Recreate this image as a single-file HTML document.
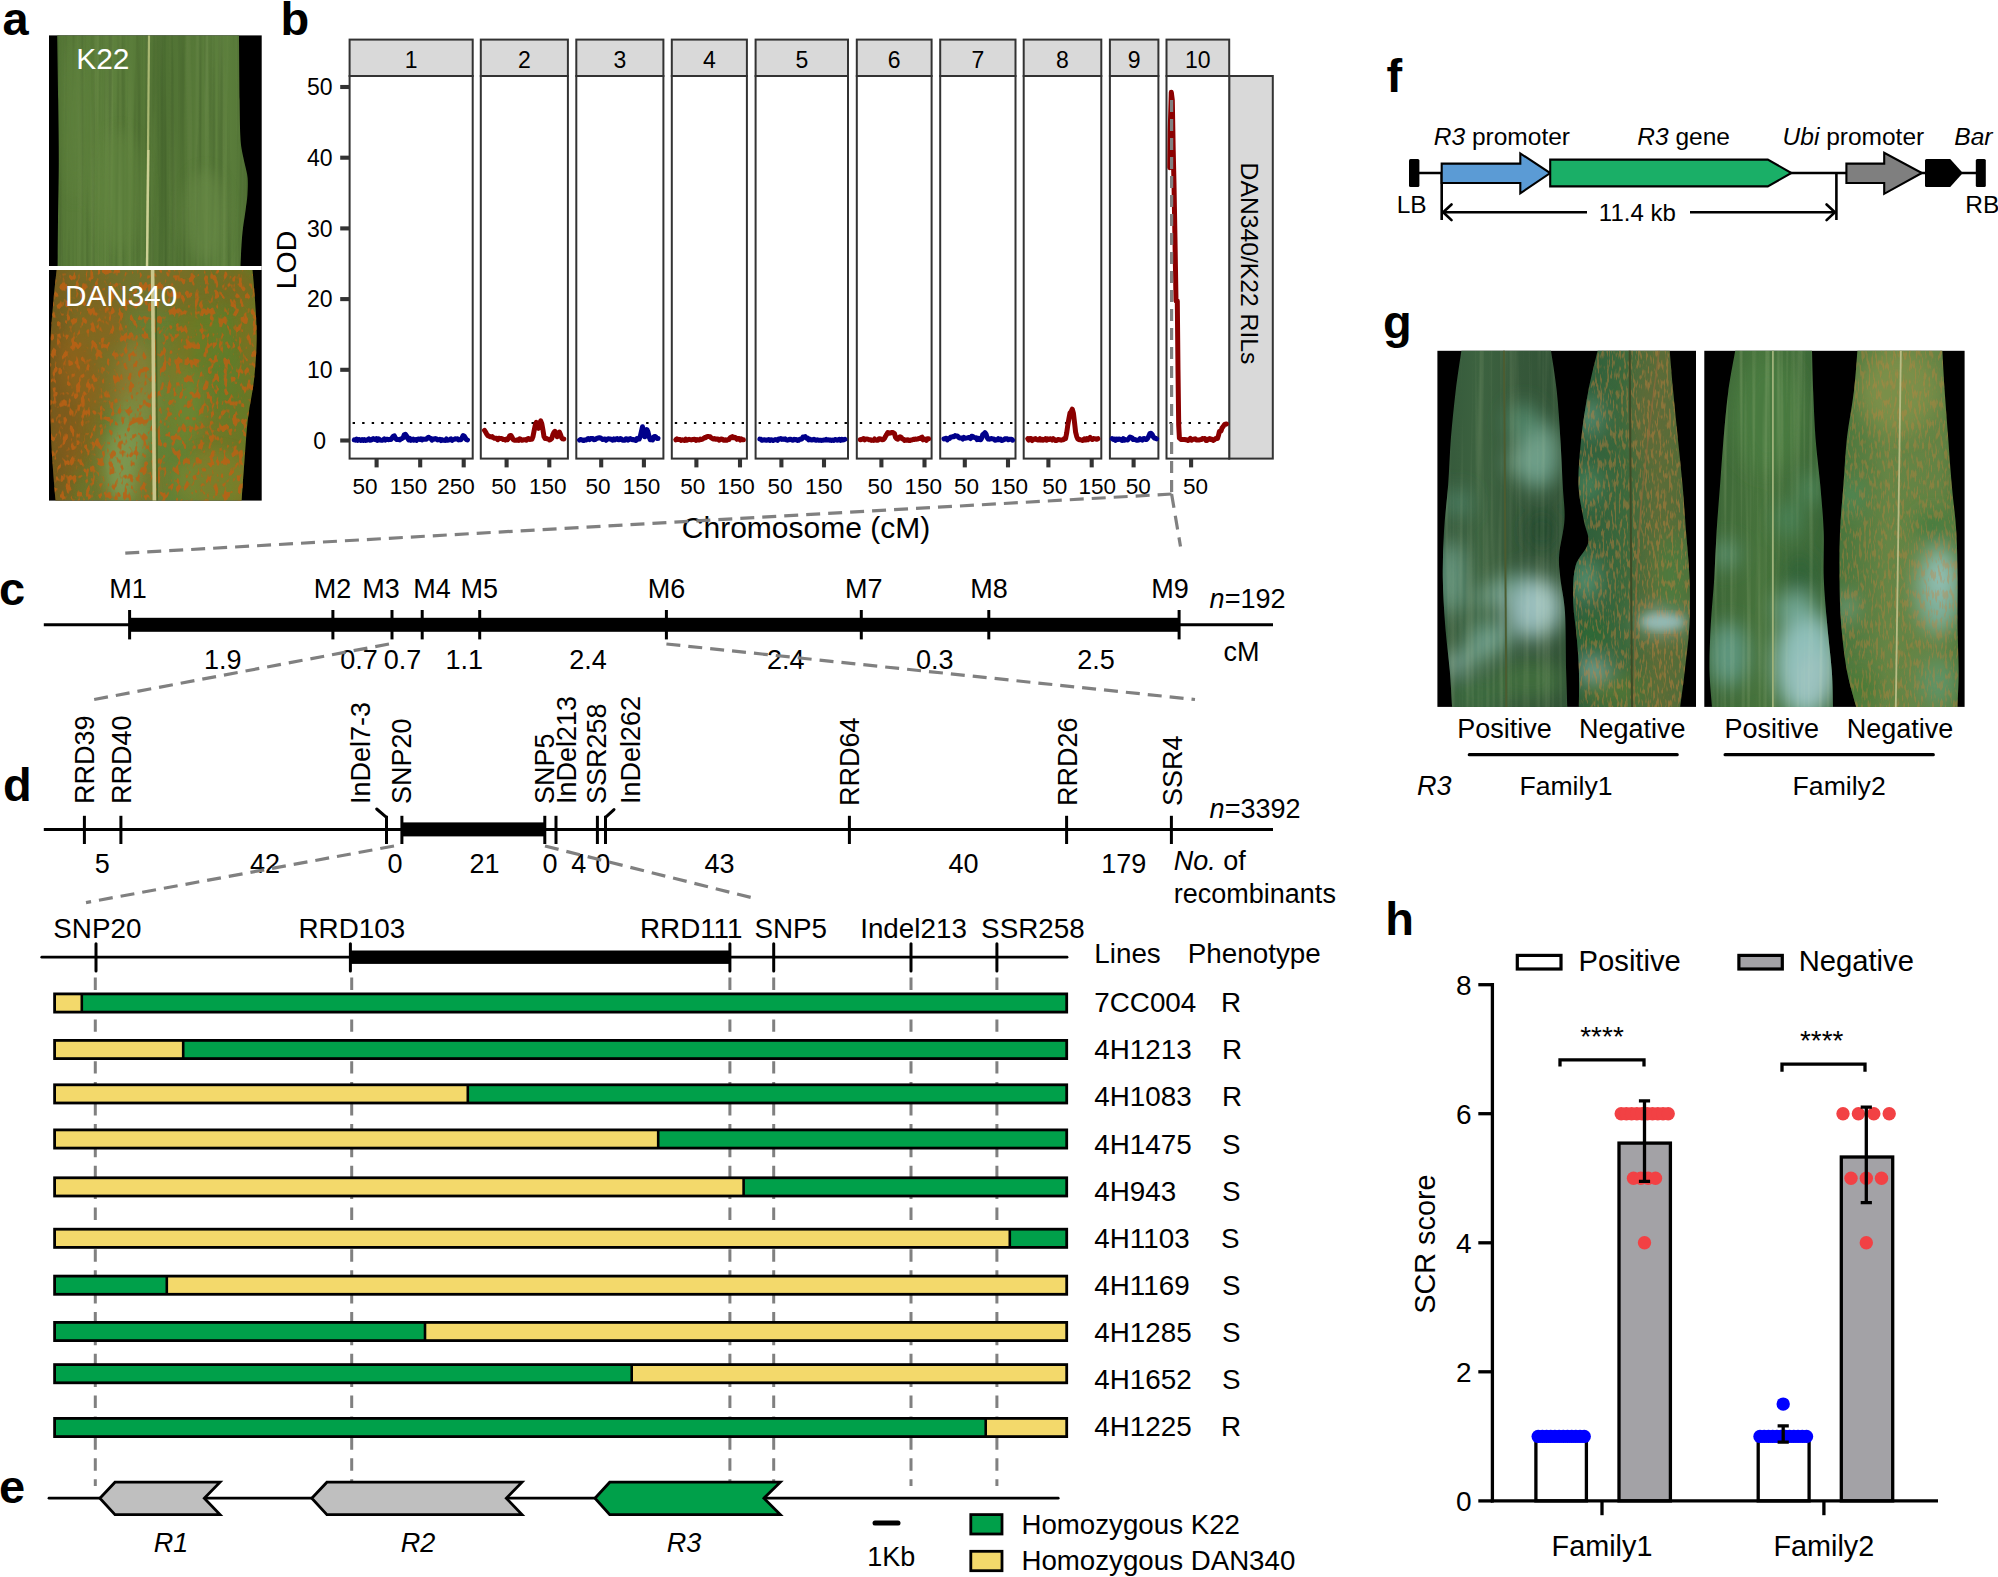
<!DOCTYPE html>
<html lang="en"><head><meta charset="utf-8"><title>Figure</title>
<style>
html,body{margin:0;padding:0;background:#fff;overflow:hidden}
svg{display:block}
text{font-family:"Liberation Sans",Arial,Helvetica,sans-serif;fill:#000}
.b{font-weight:bold}
.i{font-style:italic}
</style></head><body>
<svg width="1998" height="1577" viewBox="0 0 1998 1577">
<rect width="1998" height="1577" fill="#fff"/>
<defs>
<filter id="rustA" x="0" y="0" width="100%" height="100%" color-interpolation-filters="sRGB">
 <feTurbulence type="fractalNoise" baseFrequency="0.21 0.12" numOctaves="2" seed="11" result="n"/>
 <feColorMatrix in="n" type="matrix" values="0 0 0 0 0.74  0 0 0 0 0.38  0 0 0 0 0.08  8 0 0 0 -4.25"/>
 <feGaussianBlur stdDeviation="0.7"/>
 <feComposite in2="SourceGraphic" operator="in"/>
</filter>
<filter id="rustA2" x="0" y="0" width="100%" height="100%" color-interpolation-filters="sRGB">
 <feTurbulence type="fractalNoise" baseFrequency="0.03 0.012" numOctaves="2" seed="5" result="n"/>
 <feColorMatrix in="n" type="matrix" values="0 0 0 0 0.66  0 0 0 0 0.38  0 0 0 0 0.08  3 0 0 0 -1.2"/>
 <feComposite in2="SourceGraphic" operator="in"/>
</filter>
<filter id="rustG" x="0" y="0" width="100%" height="100%" color-interpolation-filters="sRGB">
 <feTurbulence type="fractalNoise" baseFrequency="0.42 0.10" numOctaves="2" seed="23" result="n"/>
 <feColorMatrix in="n" type="matrix" values="0 0 0 0 0.80  0 0 0 0 0.50  0 0 0 0 0.24  6 0 0 0 -3.0"/>
 <feGaussianBlur stdDeviation="0.5"/>
 <feComposite in2="SourceGraphic" operator="in"/>
</filter>
<filter id="streak" x="0" y="0" width="100%" height="100%" color-interpolation-filters="sRGB">
 <feTurbulence type="fractalNoise" baseFrequency="0.22 0.004" numOctaves="2" seed="2" result="n"/>
 <feColorMatrix in="n" type="matrix" values="0 0 0 0 1  0 0 0 0 1  0 0 0 0 0.8  3 0 0 0 -1.35"/>
 <feComposite in2="SourceGraphic" operator="in"/>
</filter>
<filter id="streakD" x="0" y="0" width="100%" height="100%" color-interpolation-filters="sRGB">
 <feTurbulence type="fractalNoise" baseFrequency="0.22 0.004" numOctaves="2" seed="9" result="n"/>
 <feColorMatrix in="n" type="matrix" values="0 0 0 0 0  0 0 0 0 0.08  0 0 0 0 0  3 0 0 0 -1.35"/>
 <feComposite in2="SourceGraphic" operator="in"/>
</filter>
<filter id="blur7" x="-30%" y="-30%" width="160%" height="160%"><feGaussianBlur stdDeviation="7"/></filter>
<filter id="blur10" x="-30%" y="-30%" width="160%" height="160%"><feGaussianBlur stdDeviation="10"/></filter>
<filter id="blur4" x="-30%" y="-30%" width="160%" height="160%"><feGaussianBlur stdDeviation="4"/></filter>
<filter id="blur1" x="-5%" y="-5%" width="110%" height="110%"><feGaussianBlur stdDeviation="0.7"/></filter>
<linearGradient id="gK22" x1="0" x2="1" y1="0" y2="0">
 <stop offset="0" stop-color="#4a6b30"/><stop offset="0.08" stop-color="#587a38"/><stop offset="0.30" stop-color="#5d803c"/>
 <stop offset="0.47" stop-color="#567837"/><stop offset="0.53" stop-color="#4f7133"/><stop offset="0.66" stop-color="#557737"/><stop offset="0.80" stop-color="#5e813e"/>
 <stop offset="0.93" stop-color="#547636"/><stop offset="1" stop-color="#46672e"/>
</linearGradient>
<linearGradient id="gDAN" x1="0" x2="1" y1="0" y2="0">
 <stop offset="0" stop-color="#705c1e"/><stop offset="0.12" stop-color="#6e7028"/><stop offset="0.35" stop-color="#667e34"/><stop offset="0.5" stop-color="#648238"/>
 <stop offset="0.8" stop-color="#5f7e2c"/><stop offset="1" stop-color="#6a7624"/>
</linearGradient>
</defs>
<g id="panel-a">
<text x="2.6" y="35" font-size="47" class="b">a</text>
<rect x="49" y="35.4" width="212.7" height="465.2" fill="#000"/>
<clipPath id="cK22"><path d="M57.2 35.4 C57.4 46.2 57.9 79.2 58.2 100 C58.5 120.8 58.8 140 58.8 160 C58.8 180 58.2 202.3 58 220 C57.8 237.7 57.7 258.3 57.6 266 L240.5 266 C240.7 262.5 241.1 251.3 241.5 245 C241.9 238.7 242.3 233.8 243 228 C243.7 222.2 244.9 215.5 245.6 210 C246.3 204.5 247.1 200.3 247.4 195 C247.7 189.7 248 183 247.6 178 C247.2 173 246 169.7 245 165 C244 160.3 242.6 155 241.8 150 C241 145 240.7 143.3 240.3 135 C239.9 126.7 239.8 116.6 239.6 100 C239.4 83.4 239.1 46.2 239 35.4 Z"/></clipPath>
<g clip-path="url(#cK22)">
<rect x="49" y="35" width="213" height="232" fill="url(#gK22)"/>
<rect x="49" y="35" width="213" height="232" fill="#fff" filter="url(#streak)" opacity="0.05"/>
<rect x="49" y="35" width="213" height="232" fill="#fff" filter="url(#streakD)" opacity="0.12"/>
<g filter="url(#blur7)" opacity="0.5"><ellipse cx="205" cy="215" rx="22" ry="45" fill="#6c8c48"/><ellipse cx="120" cy="190" rx="25" ry="60" fill="#648640"/><ellipse cx="75" cy="120" rx="10" ry="80" fill="#62843f"/></g>
<path d="M149 35 L147 267" stroke="#a9b872" stroke-width="2.2" fill="none"/>
<path d="M148.4 150 L147 267" stroke="#d2d49a" stroke-width="2.4" fill="none" opacity="0.85"/>
</g>
<clipPath id="cDAN"><path d="M56.6 269.8 C56.1 274.8 54.5 288.5 53.5 300 C52.5 311.5 51.1 324 50.6 339 C50.1 354 50.3 374.2 50.4 390 C50.5 405.8 50.6 420.7 51 434 C51.4 447.3 52.2 458.9 53 470 C53.8 481.1 55.1 495.5 55.5 500.6 L241.6 500.6 C242.1 493.8 243.4 473.8 244.5 460 C245.6 446.2 246.4 431.3 248 418 C249.6 404.7 252.6 393.2 254 380 C255.4 366.8 256.5 352.3 256.7 339 C256.9 325.7 255.7 311.5 255 300 C254.3 288.5 252.9 274.8 252.5 269.8 Z"/></clipPath>
<g clip-path="url(#cDAN)">
<rect x="49" y="269" width="213" height="232" fill="url(#gDAN)"/>
<g filter="url(#blur7)" opacity="0.7"><ellipse cx="135" cy="400" rx="20" ry="60" fill="#7f9650"/><ellipse cx="122" cy="465" rx="18" ry="40" fill="#86a05a"/><ellipse cx="185" cy="400" rx="20" ry="50" fill="#6f8630"/><ellipse cx="200" cy="330" rx="30" ry="40" fill="#687c26"/><ellipse cx="75" cy="400" rx="22" ry="70" fill="#85601c"/><ellipse cx="95" cy="320" rx="30" ry="30" fill="#7a6a20"/></g>
<rect x="49" y="269" width="213" height="232" fill="#fff" filter="url(#rustA2)" opacity="0.22"/>
<g filter="url(#blur7)" opacity="0.34"><ellipse cx="150" cy="285" rx="110" ry="30" fill="#8a5a1c"/><ellipse cx="62" cy="400" rx="16" ry="100" fill="#7a501a"/><ellipse cx="100" cy="360" rx="40" ry="50" fill="#96621e"/><ellipse cx="215" cy="480" rx="40" ry="30" fill="#9a8a30"/></g>
<rect x="49" y="269" width="213" height="232" fill="#fff" filter="url(#rustA)" opacity="0.85"/>
<path d="M152.6 269 L154.4 501" stroke="#c9c58a" stroke-width="3.6" fill="none"/>
<path d="M156.2 300 L157.4 501" stroke="#4a6426" stroke-width="1.4" fill="none"/>
</g>
<rect x="49" y="266" width="212.7" height="4" fill="#fff"/>
<text x="76.2" y="68.8" font-size="30" textLength="53.2" lengthAdjust="spacingAndGlyphs" style="fill:#fff" >K22</text>
<text x="65" y="305.5" font-size="30" textLength="112.2" lengthAdjust="spacingAndGlyphs" style="fill:#fff" >DAN340</text>
</g>
<g id="panel-b">
<text x="280.6" y="35" font-size="47" class="b">b</text>
<rect x="1229.2" y="76" width="43.6" height="382.6" fill="#D9D9D9" stroke="#333" stroke-width="2"/>
<text transform="translate(1240.5 162.6) rotate(90)" font-size="24" textLength="201.8" lengthAdjust="spacingAndGlyphs" >DAN340/K22 RILs</text>
<rect x="349.6" y="39.6" width="123.1" height="36.4" fill="#D9D9D9" stroke="#333" stroke-width="2"/>
<rect x="349.6" y="76" width="123.1" height="382.6" fill="#fff" stroke="#333" stroke-width="2"/>
<text x="411.1" y="67.9" font-size="23" text-anchor="middle" >1</text>
<line x1="352.6" y1="423" x2="471.7" y2="423" stroke="#000" stroke-width="2" stroke-dasharray="2.4 7.15"/>
<line x1="376.6" y1="458.6" x2="376.6" y2="467.4" stroke="#333" stroke-width="4.1" />
<text x="364.9" y="493.5" font-size="22.5" text-anchor="middle" >50</text>
<line x1="420.2" y1="458.6" x2="420.2" y2="467.4" stroke="#333" stroke-width="4.1" />
<text x="408.4" y="493.5" font-size="22.5" text-anchor="middle" >150</text>
<line x1="463.7" y1="458.6" x2="463.7" y2="467.4" stroke="#333" stroke-width="4.1" />
<text x="455.9" y="493.5" font-size="22.5" text-anchor="middle" >250</text>
<rect x="480.8" y="39.6" width="87.1" height="36.4" fill="#D9D9D9" stroke="#333" stroke-width="2"/>
<rect x="480.8" y="76" width="87.1" height="382.6" fill="#fff" stroke="#333" stroke-width="2"/>
<text x="524.4" y="67.9" font-size="23" text-anchor="middle" >2</text>
<line x1="483.8" y1="423" x2="566.9" y2="423" stroke="#000" stroke-width="2" stroke-dasharray="2.4 7.15"/>
<line x1="506.6" y1="458.6" x2="506.6" y2="467.4" stroke="#333" stroke-width="4.1" />
<text x="503.8" y="493.5" font-size="22.5" text-anchor="middle" >50</text>
<line x1="549.3" y1="458.6" x2="549.3" y2="467.4" stroke="#333" stroke-width="4.1" />
<text x="547.8" y="493.5" font-size="22.5" text-anchor="middle" >150</text>
<rect x="576.3" y="39.6" width="87.1" height="36.4" fill="#D9D9D9" stroke="#333" stroke-width="2"/>
<rect x="576.3" y="76" width="87.1" height="382.6" fill="#fff" stroke="#333" stroke-width="2"/>
<text x="619.8" y="67.9" font-size="23" text-anchor="middle" >3</text>
<line x1="579.3" y1="423" x2="662.4" y2="423" stroke="#000" stroke-width="2" stroke-dasharray="2.4 7.15"/>
<line x1="601.2" y1="458.6" x2="601.2" y2="467.4" stroke="#333" stroke-width="4.1" />
<text x="598.1" y="493.5" font-size="22.5" text-anchor="middle" >50</text>
<line x1="643.9" y1="458.6" x2="643.9" y2="467.4" stroke="#333" stroke-width="4.1" />
<text x="641.5" y="493.5" font-size="22.5" text-anchor="middle" >150</text>
<rect x="671.8" y="39.6" width="75.1" height="36.4" fill="#D9D9D9" stroke="#333" stroke-width="2"/>
<rect x="671.8" y="76" width="75.1" height="382.6" fill="#fff" stroke="#333" stroke-width="2"/>
<text x="709.3" y="67.9" font-size="23" text-anchor="middle" >4</text>
<line x1="674.8" y1="423" x2="745.9" y2="423" stroke="#000" stroke-width="2" stroke-dasharray="2.4 7.15"/>
<line x1="696.4" y1="458.6" x2="696.4" y2="467.4" stroke="#333" stroke-width="4.1" />
<text x="692.7" y="493.5" font-size="22.5" text-anchor="middle" >50</text>
<line x1="740" y1="458.6" x2="740" y2="467.4" stroke="#333" stroke-width="4.1" />
<text x="736.1" y="493.5" font-size="22.5" text-anchor="middle" >150</text>
<rect x="755.6" y="39.6" width="92.4" height="36.4" fill="#D9D9D9" stroke="#333" stroke-width="2"/>
<rect x="755.6" y="76" width="92.4" height="382.6" fill="#fff" stroke="#333" stroke-width="2"/>
<text x="801.8" y="67.9" font-size="23" text-anchor="middle" >5</text>
<line x1="758.6" y1="423" x2="847" y2="423" stroke="#000" stroke-width="2" stroke-dasharray="2.4 7.15"/>
<line x1="781.4" y1="458.6" x2="781.4" y2="467.4" stroke="#333" stroke-width="4.1" />
<text x="780.1" y="493.5" font-size="22.5" text-anchor="middle" >50</text>
<line x1="824" y1="458.6" x2="824" y2="467.4" stroke="#333" stroke-width="4.1" />
<text x="823.8" y="493.5" font-size="22.5" text-anchor="middle" >150</text>
<rect x="856.8" y="39.6" width="74.8" height="36.4" fill="#D9D9D9" stroke="#333" stroke-width="2"/>
<rect x="856.8" y="76" width="74.8" height="382.6" fill="#fff" stroke="#333" stroke-width="2"/>
<text x="894.2" y="67.9" font-size="23" text-anchor="middle" >6</text>
<line x1="859.8" y1="423" x2="930.6" y2="423" stroke="#000" stroke-width="2" stroke-dasharray="2.4 7.15"/>
<line x1="881.4" y1="458.6" x2="881.4" y2="467.4" stroke="#333" stroke-width="4.1" />
<text x="880.1" y="493.5" font-size="22.5" text-anchor="middle" >50</text>
<line x1="924.5" y1="458.6" x2="924.5" y2="467.4" stroke="#333" stroke-width="4.1" />
<text x="923.2" y="493.5" font-size="22.5" text-anchor="middle" >150</text>
<rect x="940.2" y="39.6" width="75.3" height="36.4" fill="#D9D9D9" stroke="#333" stroke-width="2"/>
<rect x="940.2" y="76" width="75.3" height="382.6" fill="#fff" stroke="#333" stroke-width="2"/>
<text x="977.9" y="67.9" font-size="23" text-anchor="middle" >7</text>
<line x1="943.2" y1="423" x2="1014.5" y2="423" stroke="#000" stroke-width="2" stroke-dasharray="2.4 7.15"/>
<line x1="964.8" y1="458.6" x2="964.8" y2="467.4" stroke="#333" stroke-width="4.1" />
<text x="966.4" y="493.5" font-size="22.5" text-anchor="middle" >50</text>
<line x1="1008" y1="458.6" x2="1008" y2="467.4" stroke="#333" stroke-width="4.1" />
<text x="1009.2" y="493.5" font-size="22.5" text-anchor="middle" >150</text>
<rect x="1023.7" y="39.6" width="77.6" height="36.4" fill="#D9D9D9" stroke="#333" stroke-width="2"/>
<rect x="1023.7" y="76" width="77.6" height="382.6" fill="#fff" stroke="#333" stroke-width="2"/>
<text x="1062.5" y="67.9" font-size="23" text-anchor="middle" >8</text>
<line x1="1026.7" y1="423" x2="1100.3" y2="423" stroke="#000" stroke-width="2" stroke-dasharray="2.4 7.15"/>
<line x1="1048.4" y1="458.6" x2="1048.4" y2="467.4" stroke="#333" stroke-width="4.1" />
<text x="1054.7" y="493.5" font-size="22.5" text-anchor="middle" >50</text>
<line x1="1091.7" y1="458.6" x2="1091.7" y2="467.4" stroke="#333" stroke-width="4.1" />
<text x="1097.3" y="493.5" font-size="22.5" text-anchor="middle" >150</text>
<rect x="1109.9" y="39.6" width="48.5" height="36.4" fill="#D9D9D9" stroke="#333" stroke-width="2"/>
<rect x="1109.9" y="76" width="48.5" height="382.6" fill="#fff" stroke="#333" stroke-width="2"/>
<text x="1134.2" y="67.9" font-size="23" text-anchor="middle" >9</text>
<line x1="1112.9" y1="423" x2="1157.4" y2="423" stroke="#000" stroke-width="2" stroke-dasharray="2.4 7.15"/>
<line x1="1133.6" y1="458.6" x2="1133.6" y2="467.4" stroke="#333" stroke-width="4.1" />
<text x="1138.2" y="493.5" font-size="22.5" text-anchor="middle" >50</text>
<rect x="1166.5" y="39.6" width="62.7" height="36.4" fill="#D9D9D9" stroke="#333" stroke-width="2"/>
<rect x="1166.5" y="76" width="62.7" height="382.6" fill="#fff" stroke="#333" stroke-width="2"/>
<text x="1197.8" y="67.9" font-size="23" text-anchor="middle" >10</text>
<line x1="1169.5" y1="423" x2="1228.2" y2="423" stroke="#000" stroke-width="2" stroke-dasharray="2.4 7.15"/>
<line x1="1191.1" y1="458.6" x2="1191.1" y2="467.4" stroke="#333" stroke-width="4.1" />
<text x="1195.5" y="493.5" font-size="22.5" text-anchor="middle" >50</text>
<line x1="340.2" y1="440.5" x2="349.6" y2="440.5" stroke="#333" stroke-width="4.1" />
<text x="319.7" y="448.7" font-size="23" text-anchor="middle" >0</text>
<line x1="340.2" y1="369.8" x2="349.6" y2="369.8" stroke="#333" stroke-width="4.1" />
<text x="319.7" y="378" font-size="23" text-anchor="middle" >10</text>
<line x1="340.2" y1="299.1" x2="349.6" y2="299.1" stroke="#333" stroke-width="4.1" />
<text x="319.7" y="307.3" font-size="23" text-anchor="middle" >20</text>
<line x1="340.2" y1="228.4" x2="349.6" y2="228.4" stroke="#333" stroke-width="4.1" />
<text x="319.7" y="236.6" font-size="23" text-anchor="middle" >30</text>
<line x1="340.2" y1="157.7" x2="349.6" y2="157.7" stroke="#333" stroke-width="4.1" />
<text x="319.7" y="165.9" font-size="23" text-anchor="middle" >40</text>
<line x1="340.2" y1="87" x2="349.6" y2="87" stroke="#333" stroke-width="4.1" />
<text x="319.7" y="95.2" font-size="23" text-anchor="middle" >50</text>
<text transform="translate(295.5 260) rotate(-90)" font-size="27" text-anchor="middle" textLength="58.6" lengthAdjust="spacingAndGlyphs" >LOD</text>
<text x="806" y="537.7" font-size="29.5" text-anchor="middle" textLength="248.4" lengthAdjust="spacingAndGlyphs" >Chromosome (cM)</text>
<polyline points="354.3,439.9 355.4,440.2 356.5,439.2 357.6,440.4 358.7,439.4 359.8,439.8 361,440.4 362.1,439.5 363.2,440.4 364.3,439.6 365.4,440.4 366.5,440.3 367.6,439.7 368.7,438.9 369.8,440.3 370.9,440.1 372.1,439.3 373.2,438.6 374.3,439.4 375.4,439.7 376.5,438.6 377.6,440.4 378.7,438.8 379.8,439.9 380.9,440.2 382,440.3 383.2,439.9 384.3,438.9 385.4,440.1 386.5,439.3 387.6,439.2 388.7,439.7 389.8,439.3 390.9,439.6 392,438 393.1,436.3 394.3,435.9 395.4,438.2 396.5,439.5 397.6,439.3 398.7,439.6 399.8,439.9 400.9,438.9 402,438.6 403.1,437.8 404.2,434.8 405.4,434.3 406.5,435.7 407.6,438.1 408.7,439.8 409.8,438.5 410.9,440.3 412,439.7 413.1,439 414.2,440.2 415.3,439.5 416.4,440.4 417.6,439.2 418.7,439 419.8,439.4 420.9,438.8 422,439.9 423.1,439.1 424.2,439.3 425.3,439.2 426.4,439.2 427.5,437.9 428.7,437.2 429.8,438.3 430.9,438.4 432,440.1 433.1,439 434.2,439.2 435.3,438.5 436.4,438.9 437.5,439.9 438.6,439.7 439.8,439.2 440.9,440.5 442,439.6 443.1,440.2 444.2,440.3 445.3,440.4 446.4,439 447.5,440.2 448.6,440 449.7,439.7 450.9,438.8 452,440.3 453.1,439.6 454.2,439.4 455.3,438.8 456.4,438.9 457.5,438.8 458.6,439.9 459.7,439.7 460.8,439.7 462,438 463.1,435.6 464.2,436 465.3,437.9 466.4,439.6 467.5,440" fill="none" stroke="#00008B" stroke-width="5" stroke-linejoin="round" stroke-linecap="round"/>
<polyline points="484.5,430.3 485.6,432 486.7,434.1 487.8,435.7 488.9,435.9 490,436.7 491.1,436.9 492.2,436.6 493.3,437.6 494.4,438.2 495.5,438.3 496.6,438.3 497.7,439.7 498.8,438.2 499.9,438.5 501,438.4 502.1,438.6 503.2,439.5 504.3,439.5 505.4,440.1 506.5,439 507.6,439.7 508.7,438.1 509.8,435.6 510.9,435.4 512,437.1 513.1,439.5 514.2,440.3 515.3,440.2 516.4,440.3 517.5,439.8 518.6,440.4 519.7,438.8 520.8,439.3 521.9,440.2 523,440 524.1,439.8 525.3,439.8 526.4,440.3 527.5,438.8 528.6,438.5 529.7,439.5 530.8,439.3 531.9,439.2 533,436.5 534.1,430.8 535.2,425.4 536.3,422.4 537.4,426.3 538.5,428.3 539.6,423.6 540.7,420.9 541.8,423.6 542.9,429.6 544,436.6 545.1,438.5 546.2,438.4 547.3,438.8 548.4,439.1 549.5,439.9 550.6,439.4 551.7,438.6 552.8,434.9 553.9,432.5 555,431.3 556.1,434.3 557.2,436.7 558.3,434.6 559.4,432.1 560.5,434.5 561.6,437.8 562.7,438.8 563.8,439" fill="none" stroke="#8B0000" stroke-width="5" stroke-linejoin="round" stroke-linecap="round"/>
<polyline points="579.5,440.1 580.6,439.5 581.7,439.8 582.8,440.4 583.9,440.4 585,439.9 586.1,440 587.2,439.1 588.3,438.6 589.5,439.6 590.6,438.6 591.7,438.5 592.8,438.6 593.9,439.7 595,439.6 596.1,438.9 597.2,438.2 598.3,438 599.4,437.8 600.5,438 601.6,438.6 602.7,439.5 603.8,439.2 604.9,438.9 606,440.3 607.1,439.2 608.2,438.7 609.4,439 610.5,439 611.6,439.6 612.7,440.1 613.8,438.9 614.9,439.8 616,438.9 617.1,438.6 618.2,439.7 619.3,439.7 620.4,438.6 621.5,439.1 622.6,440.2 623.7,440.2 624.8,440.2 625.9,438.7 627,438.9 628.1,440.2 629.3,438.9 630.4,438.6 631.5,439.2 632.6,439.8 633.7,439.4 634.8,440.2 635.9,440.5 637,438.6 638.1,439.2 639.2,439.1 640.3,436.2 641.4,431.5 642.5,426.8 643.6,430.9 644.7,436.8 645.8,434.6 646.9,429.6 648,432.1 649.2,437 650.3,439.7 651.4,439.6 652.5,440 653.6,437.1 654.7,436.4 655.8,436.8 656.9,438.5 658,438.6" fill="none" stroke="#00008B" stroke-width="5" stroke-linejoin="round" stroke-linecap="round"/>
<polyline points="675.8,439.8 676.9,438.9 678,439.6 679.1,439.6 680.2,439.6 681.3,440.5 682.4,439.8 683.6,440.2 684.7,440.5 685.8,439.1 686.9,440.2 688,439.7 689.1,439.3 690.2,439.6 691.3,439.9 692.4,439.6 693.5,439.6 694.6,439.2 695.7,440.3 696.9,439.5 698,440.1 699.1,440 700.2,439.1 701.3,439.5 702.4,439.2 703.5,438.5 704.6,437.6 705.7,437.7 706.8,436.7 707.9,436.5 709,436.6 710.2,436.8 711.3,437.9 712.4,438.5 713.5,439.1 714.6,438.6 715.7,439.2 716.8,439 717.9,438.9 719,440.1 720.1,439.6 721.2,438.9 722.3,439.1 723.5,440.3 724.6,440.3 725.7,439.7 726.8,440.2 727.9,439.6 729,439.5 730.1,437.9 731.2,437.2 732.3,436.6 733.4,437.8 734.5,437.2 735.6,437.8 736.8,439.3 737.9,438.5 739,438.6 740.1,440 741.2,438.8 742.3,439.8 743.4,439.7" fill="none" stroke="#8B0000" stroke-width="5" stroke-linejoin="round" stroke-linecap="round"/>
<polyline points="759.8,439.1 760.9,439.3 762,440.3 763.1,439.9 764.2,439.8 765.3,440 766.4,440.2 767.5,440 768.7,439.5 769.8,440.5 770.9,439.7 772,439.9 773.1,440.5 774.2,440 775.3,439.6 776.4,439.8 777.5,440.4 778.6,439 779.7,439 780.8,438.5 781.9,439.4 783,439.1 784.1,439.5 785.2,438.8 786.4,439.8 787.5,440.2 788.6,439.9 789.7,439.2 790.8,439.3 791.9,440.1 793,440.3 794.1,439.2 795.2,439.7 796.3,439.5 797.4,440.4 798.5,440.3 799.6,439.3 800.7,439.3 801.8,439.1 803,437 804.1,436.9 805.2,436.6 806.3,438.2 807.4,438 808.5,439.8 809.6,439 810.7,439.8 811.8,440 812.9,439.7 814,439.2 815.1,440.1 816.2,440.3 817.3,439.8 818.4,440.2 819.6,440.3 820.7,440.3 821.8,440.4 822.9,440.2 824,440.1 825.1,440.1 826.2,439.4 827.3,440.1 828.4,439.8 829.5,440.2 830.6,440 831.7,440.5 832.8,440.1 833.9,440.5 835,439.5 836.1,439.7 837.3,440.2 838.4,439.8 839.5,439.2 840.6,440.3 841.7,439.3 842.8,439.9 843.9,439.8 845,439.3" fill="none" stroke="#00008B" stroke-width="5" stroke-linejoin="round" stroke-linecap="round"/>
<polyline points="860.3,439.7 861.4,439.5 862.5,439.1 863.6,438.6 864.7,439.8 865.8,438.9 866.9,439.1 868,439.2 869.1,439.7 870.2,439.8 871.3,440.4 872.4,440.2 873.5,440.4 874.6,439 875.7,440 876.8,440.2 877.9,440.3 879,438.8 880.1,438.8 881.2,439.2 882.3,439.8 883.4,439.6 884.5,438.4 885.6,436.2 886.7,434.4 887.8,432.5 888.9,433.3 890,433 891.1,432.8 892.2,432.4 893.3,432.9 894.5,433.7 895.6,437.6 896.7,438.7 897.8,439.2 898.9,437.5 900,436.7 901.1,437.2 902.2,438.9 903.3,439.1 904.4,440.4 905.5,440 906.6,440.3 907.7,439.7 908.8,440.4 909.9,440.5 911,439.9 912.1,440 913.2,439.3 914.3,439.5 915.4,439 916.5,439.2 917.6,439.1 918.7,438.5 919.8,438.6 920.9,437.7 922,437.1 923.1,439.8 924.2,439 925.3,439.2 926.4,440.4 927.5,438.8 928.6,438.7" fill="none" stroke="#8B0000" stroke-width="5" stroke-linejoin="round" stroke-linecap="round"/>
<polyline points="944,438.9 945.1,438.5 946.2,438.3 947.3,439.9 948.4,438.7 949.5,438.5 950.6,437.3 951.8,437 952.9,436.6 954,436.8 955.1,435.6 956.2,436 957.3,435.9 958.4,437.2 959.5,438 960.6,438.1 961.7,437.9 962.8,439 963.9,437.4 965.1,438.3 966.2,438.1 967.3,437.9 968.4,437.5 969.5,437.6 970.6,438.5 971.7,436.3 972.8,436.5 973.9,437.4 975,437.7 976.1,437.8 977.2,439.7 978.4,438.3 979.5,439.6 980.6,439.8 981.7,438.1 982.8,434.6 983.9,433.9 985,432.6 986.1,434.2 987.2,437.7 988.3,439.1 989.4,439.2 990.5,438.8 991.6,438.5 992.8,438.9 993.9,438.9 995,440.3 996.1,440.1 997.2,439.9 998.3,438.6 999.4,439.7 1000.5,439.1 1001.6,440.5 1002.7,440.3 1003.8,439.8 1004.9,438.8 1006.1,438.7 1007.2,438.8 1008.3,439.8 1009.4,439.2 1010.5,439.3 1011.6,439.3 1012.7,440.2" fill="none" stroke="#00008B" stroke-width="5" stroke-linejoin="round" stroke-linecap="round"/>
<polyline points="1027.7,438.7 1028.8,440.1 1029.9,438.6 1031,438.6 1032.2,440.5 1033.3,439.6 1034.4,438.9 1035.5,438.6 1036.6,439.6 1037.7,440 1038.8,440.1 1040,438.6 1041.1,440.1 1042.2,439.3 1043.3,440.2 1044.4,439.5 1045.5,438.6 1046.6,440.2 1047.8,438.9 1048.9,439.5 1050,438.7 1051.1,439.1 1052.2,440 1053.3,438.7 1054.4,439.5 1055.6,440.5 1056.7,440.5 1057.8,439.5 1058.9,439.6 1060,439.9 1061.1,440.2 1062.2,439.8 1063.4,439.8 1064.5,438.4 1065.6,438.6 1066.7,432.8 1067.8,425 1068.9,418.8 1070,413 1071.2,411.4 1072.3,409.2 1073.4,413.1 1074.5,422.3 1075.6,432.1 1076.7,436.4 1077.8,438.9 1079,439.7 1080.1,439.6 1081.2,440 1082.3,440.4 1083.4,440.3 1084.5,438.8 1085.6,439.9 1086.8,438.6 1087.9,439.7 1089,438.6 1090.1,437.4 1091.2,438.9 1092.3,439.5 1093.4,438.6 1094.6,438.7 1095.7,438.9 1096.8,439.3 1097.9,438.7" fill="none" stroke="#8B0000" stroke-width="5" stroke-linejoin="round" stroke-linecap="round"/>
<polyline points="1112.2,438.6 1113.3,439.4 1114.4,439.1 1115.5,440.4 1116.6,439.1 1117.8,439.6 1118.9,439 1120,439.2 1121.1,439.9 1122.2,440.4 1123.3,438.7 1124.4,440.2 1125.5,439.6 1126.6,439.8 1127.7,439.9 1128.8,438.6 1130,437 1131.1,437.5 1132.2,437.8 1133.3,439.6 1134.4,439.4 1135.5,439.7 1136.6,440.2 1137.7,440.2 1138.8,440.1 1140,438.7 1141.1,439.5 1142.2,440.1 1143.3,438.7 1144.4,438.5 1145.5,439.4 1146.6,439.5 1147.7,438.1 1148.8,436.1 1149.9,433.4 1151,433.3 1152.2,434.5 1153.3,436.8 1154.4,438 1155.5,438.3 1156.6,438.9" fill="none" stroke="#00008B" stroke-width="5" stroke-linejoin="round" stroke-linecap="round"/>
<polyline points="1169.8,167.7 1170.2,130 1171.3,92.3 1172.3,100 1173.2,150 1174,184 1175,240 1176,301 1177.3,301 1178,370 1178.7,425 1179.4,438 1181,439.5 1182,439.6 1183.2,439.6 1184.4,439.4 1185.6,439.7 1186.8,439.8 1188,440.4 1189.2,439.9 1190.4,438.4 1191.6,440.2 1192.8,439.4 1194,439.2 1195.2,438.7 1196.4,440 1197.6,439.9 1198.8,440 1200,439.7 1201.2,439.6 1202.4,438.5 1203.6,438.7 1204.8,438.6 1206,440.5 1207.2,440.4 1208.4,439 1209.6,438.6 1210.8,439.5 1212,439.3 1213.2,440.5 1214.4,439.7 1215.6,438.5 1217.5,438.5 1218.6,435 1219.4,431.5 1221,431 1222,428 1223.2,426.5 1224.5,424.5 1226.5,424" fill="none" stroke="#8B0000" stroke-width="5" stroke-linejoin="round" stroke-linecap="round"/>
</g>
<g id="zoom-b-c">
<line x1="1171.6" y1="100" x2="1171.6" y2="494" stroke="#808080" stroke-width="3.2" stroke-dasharray="12 7"/>
<line x1="1171.6" y1="494" x2="120" y2="553.5" stroke="#808080" stroke-width="3.2" stroke-dasharray="14 8"/>
<line x1="1171.6" y1="494" x2="1180.5" y2="546.5" stroke="#808080" stroke-width="3.2" stroke-dasharray="14 8"/>
</g>
<g id="panel-c">
<text x="-1" y="604.8" font-size="47" class="b">c</text>
<line x1="43.8" y1="624.8" x2="1273" y2="624.8" stroke="#000" stroke-width="3" />
<rect x="129.6" y="617.8" width="1049.5" height="14" fill="#000"/>
<line x1="129.6" y1="610" x2="129.6" y2="639.4" stroke="#000" stroke-width="3" />
<text x="127.9" y="597.8" font-size="27" text-anchor="middle" >M1</text>
<line x1="332.9" y1="610" x2="332.9" y2="639.4" stroke="#000" stroke-width="3" />
<text x="332.5" y="597.8" font-size="27" text-anchor="middle" >M2</text>
<line x1="392" y1="610" x2="392" y2="639.4" stroke="#000" stroke-width="3" />
<text x="381" y="597.8" font-size="27" text-anchor="middle" >M3</text>
<line x1="422.2" y1="610" x2="422.2" y2="639.4" stroke="#000" stroke-width="3" />
<text x="431.9" y="597.8" font-size="27" text-anchor="middle" >M4</text>
<line x1="479.7" y1="610" x2="479.7" y2="639.4" stroke="#000" stroke-width="3" />
<text x="479.2" y="597.8" font-size="27" text-anchor="middle" >M5</text>
<line x1="666.4" y1="610" x2="666.4" y2="639.4" stroke="#000" stroke-width="3" />
<text x="666.6" y="597.8" font-size="27" text-anchor="middle" >M6</text>
<line x1="861.3" y1="610" x2="861.3" y2="639.4" stroke="#000" stroke-width="3" />
<text x="863.7" y="597.8" font-size="27" text-anchor="middle" >M7</text>
<line x1="988.8" y1="610" x2="988.8" y2="639.4" stroke="#000" stroke-width="3" />
<text x="989" y="597.8" font-size="27" text-anchor="middle" >M8</text>
<line x1="1179.1" y1="610" x2="1179.1" y2="639.4" stroke="#000" stroke-width="3" />
<text x="1170" y="597.8" font-size="27" text-anchor="middle" >M9</text>
<text x="222.8" y="669" font-size="27" text-anchor="middle" >1.9</text>
<text x="359.1" y="669" font-size="27" text-anchor="middle" >0.7</text>
<text x="402.4" y="669" font-size="27" text-anchor="middle" >0.7</text>
<text x="464.3" y="669" font-size="27" text-anchor="middle" >1.1</text>
<text x="588.1" y="669" font-size="27" text-anchor="middle" >2.4</text>
<text x="785.8" y="669" font-size="27" text-anchor="middle" >2.4</text>
<text x="934.7" y="669" font-size="27" text-anchor="middle" >0.3</text>
<text x="1095.9" y="669" font-size="27" text-anchor="middle" >2.5</text>
<text x="1209.6" y="608" font-size="27"><tspan class="i">n</tspan>=192</text>
<text x="1223.6" y="661" font-size="27" >cM</text>
</g>
<g id="zoom-c-d">
<line x1="389" y1="644" x2="89" y2="700.5" stroke="#808080" stroke-width="3.2" stroke-dasharray="14 8"/>
<line x1="666.4" y1="644" x2="1195" y2="699.5" stroke="#808080" stroke-width="3.2" stroke-dasharray="14 8"/>
</g>
<g id="panel-d">
<text x="3" y="801" font-size="47" class="b">d</text>
<line x1="43.8" y1="829.4" x2="1273" y2="829.4" stroke="#000" stroke-width="3" />
<rect x="401.9" y="822.4" width="142.9" height="14" fill="#000"/>
<line x1="84.4" y1="815.8" x2="84.4" y2="844" stroke="#000" stroke-width="3" />
<line x1="120.9" y1="815.8" x2="120.9" y2="844" stroke="#000" stroke-width="3" />
<line x1="386.5" y1="815.8" x2="386.5" y2="844" stroke="#000" stroke-width="3" />
<line x1="401.9" y1="815.8" x2="401.9" y2="844" stroke="#000" stroke-width="3" />
<line x1="544.8" y1="815.8" x2="544.8" y2="844" stroke="#000" stroke-width="3" />
<line x1="556" y1="815.8" x2="556" y2="844" stroke="#000" stroke-width="3" />
<line x1="597.4" y1="815.8" x2="597.4" y2="844" stroke="#000" stroke-width="3" />
<line x1="605.5" y1="815.8" x2="605.5" y2="844" stroke="#000" stroke-width="3" />
<line x1="849.4" y1="815.8" x2="849.4" y2="844" stroke="#000" stroke-width="3" />
<line x1="1066.6" y1="815.8" x2="1066.6" y2="844" stroke="#000" stroke-width="3" />
<line x1="1171.4" y1="815.8" x2="1171.4" y2="844" stroke="#000" stroke-width="3" />
<line x1="386.5" y1="817.3" x2="376.7" y2="809" stroke="#000" stroke-width="3" stroke-linecap="round"/>
<line x1="605.5" y1="817.3" x2="614" y2="809.6" stroke="#000" stroke-width="3" stroke-linecap="round"/>
<text transform="translate(93.5 804) rotate(-90)" font-size="27" >RRD39</text>
<text transform="translate(131 804) rotate(-90)" font-size="27" >RRD40</text>
<text transform="translate(369.5 804) rotate(-90)" font-size="27" >InDel7-3</text>
<text transform="translate(410.5 804) rotate(-90)" font-size="27" >SNP20</text>
<text transform="translate(553.5 804) rotate(-90)" font-size="27" >SNP5</text>
<text transform="translate(576.2 804) rotate(-90)" font-size="27" >InDel213</text>
<text transform="translate(606 804) rotate(-90)" font-size="27" >SSR258</text>
<text transform="translate(640.3 804) rotate(-90)" font-size="27" >InDel262</text>
<text transform="translate(859 806) rotate(-90)" font-size="27" >RRD64</text>
<text transform="translate(1076.5 806) rotate(-90)" font-size="27" >RRD26</text>
<text transform="translate(1181.6 806) rotate(-90)" font-size="27" >SSR4</text>
<text x="102.3" y="873" font-size="27" text-anchor="middle" >5</text>
<text x="265" y="873" font-size="27" text-anchor="middle" >42</text>
<text x="395" y="873" font-size="27" text-anchor="middle" >0</text>
<text x="484.6" y="873" font-size="27" text-anchor="middle" >21</text>
<text x="550" y="873" font-size="27" text-anchor="middle" >0</text>
<text x="578.8" y="873" font-size="27" text-anchor="middle" >4</text>
<text x="602.7" y="873" font-size="27" text-anchor="middle" >0</text>
<text x="719.4" y="873" font-size="27" text-anchor="middle" >43</text>
<text x="963.6" y="873" font-size="27" text-anchor="middle" >40</text>
<text x="1123.7" y="873" font-size="27" text-anchor="middle" >179</text>
<text x="1209.6" y="817.9" font-size="27"><tspan class="i">n</tspan>=3392</text>
<text x="1173.8" y="870.4" font-size="27"><tspan class="i">No.</tspan> of</text>
<text x="1173.8" y="902.6" font-size="27" >recombinants</text>
</g>
<g id="zoom-d-e">
<line x1="394" y1="846" x2="86" y2="902.6" stroke="#808080" stroke-width="3.2" stroke-dasharray="14 8"/>
<line x1="545" y1="846" x2="757" y2="899" stroke="#808080" stroke-width="3.2" stroke-dasharray="14 8"/>
</g>
<g id="haplotypes">
<line x1="41.8" y1="957.2" x2="1067" y2="957.2" stroke="#000" stroke-width="2.8" stroke-linecap="round"/>
<rect x="350.4" y="950.5" width="379.5" height="13.4" fill="#000"/>
<line x1="96" y1="943.7" x2="96" y2="971" stroke="#000" stroke-width="3" stroke-linecap="round"/>
<line x1="350.4" y1="943.7" x2="350.4" y2="971" stroke="#000" stroke-width="3" stroke-linecap="round"/>
<line x1="729.9" y1="943.7" x2="729.9" y2="971" stroke="#000" stroke-width="3" stroke-linecap="round"/>
<line x1="773.7" y1="943.7" x2="773.7" y2="971" stroke="#000" stroke-width="3" stroke-linecap="round"/>
<line x1="911" y1="943.7" x2="911" y2="971" stroke="#000" stroke-width="3" stroke-linecap="round"/>
<line x1="996.9" y1="943.7" x2="996.9" y2="971" stroke="#000" stroke-width="3" stroke-linecap="round"/>
<text x="53.3" y="937.5" font-size="27.8" >SNP20</text>
<text x="298.5" y="937.5" font-size="27.8" >RRD103</text>
<text x="640" y="937.5" font-size="27.8" >RRD111</text>
<text x="754.4" y="937.5" font-size="27.8" >SNP5</text>
<text x="860.2" y="937.5" font-size="27.8" >Indel213</text>
<text x="981.1" y="937.5" font-size="27.8" >SSR258</text>
<text x="1094.3" y="963" font-size="27.8" >Lines</text>
<text x="1187.8" y="963" font-size="27.8" >Phenotype</text>
<line x1="95.3" y1="977.6" x2="95.3" y2="1486" stroke="#808080" stroke-width="3" stroke-dasharray="12.4 8.5"/>
<line x1="351.7" y1="977.6" x2="351.7" y2="1486" stroke="#808080" stroke-width="3" stroke-dasharray="12.4 8.5"/>
<line x1="729.9" y1="977.6" x2="729.9" y2="1486" stroke="#808080" stroke-width="3" stroke-dasharray="12.4 8.5"/>
<line x1="773.7" y1="977.6" x2="773.7" y2="1486" stroke="#808080" stroke-width="3" stroke-dasharray="12.4 8.5"/>
<line x1="911" y1="977.6" x2="911" y2="1486" stroke="#808080" stroke-width="3" stroke-dasharray="12.4 8.5"/>
<line x1="996.9" y1="977.6" x2="996.9" y2="1486" stroke="#808080" stroke-width="3" stroke-dasharray="12.4 8.5"/>
<rect x="54.6" y="993.9" width="27.2" height="18.2" fill="#F3D96B"/>
<rect x="81.8" y="993.9" width="984.9" height="18.2" fill="#00A04A"/>
<rect x="54.6" y="993.9" width="1012.1" height="18.2" fill="none" stroke="#000" stroke-width="2.8"/>
<line x1="81.8" y1="993.9" x2="81.8" y2="1012.1" stroke="#000" stroke-width="2.6" />
<text x="1094.3" y="1012.1" font-size="27.8" >7CC004</text>
<text x="1221" y="1012.1" font-size="27.8" >R</text>
<rect x="54.6" y="1040.4" width="128.6" height="18.2" fill="#F3D96B"/>
<rect x="183.2" y="1040.4" width="883.5" height="18.2" fill="#00A04A"/>
<rect x="54.6" y="1040.4" width="1012.1" height="18.2" fill="none" stroke="#000" stroke-width="2.8"/>
<line x1="183.2" y1="1040.4" x2="183.2" y2="1058.6" stroke="#000" stroke-width="2.6" />
<text x="1094.3" y="1059.2" font-size="27.8" >4H1213</text>
<text x="1222" y="1059.2" font-size="27.8" >R</text>
<rect x="54.6" y="1084.8" width="413.2" height="18.2" fill="#F3D96B"/>
<rect x="467.8" y="1084.8" width="598.9" height="18.2" fill="#00A04A"/>
<rect x="54.6" y="1084.8" width="1012.1" height="18.2" fill="none" stroke="#000" stroke-width="2.8"/>
<line x1="467.8" y1="1084.8" x2="467.8" y2="1103" stroke="#000" stroke-width="2.6" />
<text x="1094.3" y="1106.3" font-size="27.8" >4H1083</text>
<text x="1222" y="1106.3" font-size="27.8" >R</text>
<rect x="54.6" y="1129.9" width="603.6" height="18.2" fill="#F3D96B"/>
<rect x="658.2" y="1129.9" width="408.5" height="18.2" fill="#00A04A"/>
<rect x="54.6" y="1129.9" width="1012.1" height="18.2" fill="none" stroke="#000" stroke-width="2.8"/>
<line x1="658.2" y1="1129.9" x2="658.2" y2="1148.1" stroke="#000" stroke-width="2.6" />
<text x="1094.3" y="1153.5" font-size="27.8" >4H1475</text>
<text x="1222" y="1153.5" font-size="27.8" >S</text>
<rect x="54.6" y="1177.8" width="689" height="18.2" fill="#F3D96B"/>
<rect x="743.6" y="1177.8" width="323.1" height="18.2" fill="#00A04A"/>
<rect x="54.6" y="1177.8" width="1012.1" height="18.2" fill="none" stroke="#000" stroke-width="2.8"/>
<line x1="743.6" y1="1177.8" x2="743.6" y2="1196" stroke="#000" stroke-width="2.6" />
<text x="1094.3" y="1200.6" font-size="27.8" >4H943</text>
<text x="1222" y="1200.6" font-size="27.8" >S</text>
<rect x="54.6" y="1229.2" width="955.2" height="18.2" fill="#F3D96B"/>
<rect x="1009.8" y="1229.2" width="56.9" height="18.2" fill="#00A04A"/>
<rect x="54.6" y="1229.2" width="1012.1" height="18.2" fill="none" stroke="#000" stroke-width="2.8"/>
<line x1="1009.8" y1="1229.2" x2="1009.8" y2="1247.4" stroke="#000" stroke-width="2.6" />
<text x="1094.3" y="1247.7" font-size="27.8" >4H1103</text>
<text x="1221" y="1247.7" font-size="27.8" >S</text>
<rect x="54.6" y="1276.1" width="112.2" height="18.2" fill="#00A04A"/>
<rect x="166.8" y="1276.1" width="899.9" height="18.2" fill="#F3D96B"/>
<rect x="54.6" y="1276.1" width="1012.1" height="18.2" fill="none" stroke="#000" stroke-width="2.8"/>
<line x1="166.8" y1="1276.1" x2="166.8" y2="1294.3" stroke="#000" stroke-width="2.6" />
<text x="1094.3" y="1294.8" font-size="27.8" >4H1169</text>
<text x="1222" y="1294.8" font-size="27.8" >S</text>
<rect x="54.6" y="1322.4" width="370.4" height="18.2" fill="#00A04A"/>
<rect x="425" y="1322.4" width="641.7" height="18.2" fill="#F3D96B"/>
<rect x="54.6" y="1322.4" width="1012.1" height="18.2" fill="none" stroke="#000" stroke-width="2.8"/>
<line x1="425" y1="1322.4" x2="425" y2="1340.6" stroke="#000" stroke-width="2.6" />
<text x="1094.3" y="1341.9" font-size="27.8" >4H1285</text>
<text x="1222" y="1341.9" font-size="27.8" >S</text>
<rect x="54.6" y="1364.6" width="577.1" height="18.2" fill="#00A04A"/>
<rect x="631.7" y="1364.6" width="435" height="18.2" fill="#F3D96B"/>
<rect x="54.6" y="1364.6" width="1012.1" height="18.2" fill="none" stroke="#000" stroke-width="2.8"/>
<line x1="631.7" y1="1364.6" x2="631.7" y2="1382.8" stroke="#000" stroke-width="2.6" />
<text x="1094.3" y="1389.1" font-size="27.8" >4H1652</text>
<text x="1222" y="1389.1" font-size="27.8" >S</text>
<rect x="54.6" y="1418.4" width="931.1" height="18.2" fill="#00A04A"/>
<rect x="985.7" y="1418.4" width="81" height="18.2" fill="#F3D96B"/>
<rect x="54.6" y="1418.4" width="1012.1" height="18.2" fill="none" stroke="#000" stroke-width="2.8"/>
<line x1="985.7" y1="1418.4" x2="985.7" y2="1436.6" stroke="#000" stroke-width="2.6" />
<text x="1094.3" y="1436.2" font-size="27.8" >4H1225</text>
<text x="1221" y="1436.2" font-size="27.8" >R</text>
</g>
<g id="panel-e">
<text x="-1" y="1502.8" font-size="47" class="b">e</text>
<line x1="49" y1="1498.2" x2="1058.2" y2="1498.2" stroke="#000" stroke-width="2.8" stroke-linecap="round"/>
<path d="M99.9 1498.2 L115 1482.2 L220 1482.2 L204.3 1498.2 L220 1514.6 L115 1514.6 Z" fill="#BFBFBF" stroke="#000" stroke-width="2.8" stroke-linejoin="miter"/>
<path d="M311.8 1498.2 L326.9 1482.2 L522 1482.2 L506.3 1498.2 L522 1514.6 L326.9 1514.6 Z" fill="#BFBFBF" stroke="#000" stroke-width="2.8" stroke-linejoin="miter"/>
<path d="M595 1498.2 L609.7 1482.2 L780.3 1482.2 L763.9 1498.2 L780.3 1514.6 L609.7 1514.6 Z" fill="#00A04A" stroke="#000" stroke-width="2.8" stroke-linejoin="miter"/>
<text x="171" y="1551.8" font-size="27" text-anchor="middle" class="i">R1</text>
<text x="418" y="1551.8" font-size="27" text-anchor="middle" class="i">R2</text>
<text x="684" y="1551.8" font-size="27" text-anchor="middle" class="i">R3</text>
<line x1="875" y1="1523.1" x2="898" y2="1523.1" stroke="#000" stroke-width="5" stroke-linecap="round"/>
<text x="867.2" y="1565.9" font-size="27" >1Kb</text>
<rect x="970.8" y="1514.6" width="31.2" height="19.4" fill="#00A04A" stroke="#000" stroke-width="2.8"/>
<rect x="970.8" y="1551.3" width="31.2" height="19.4" fill="#F3D96B" stroke="#000" stroke-width="2.8"/>
<text x="1021.4" y="1533.6" font-size="27.7" >Homozygous K22</text>
<text x="1021.4" y="1570.4" font-size="27.7" >Homozygous DAN340</text>
</g>
<g id="panel-f">
<text x="1386.4" y="91.9" font-size="47" class="b">f</text>
<line x1="1414" y1="173" x2="1981" y2="173" stroke="#000" stroke-width="2.6" />
<rect x="1409" y="159" width="10.4" height="28" rx="1.5" fill="#000"/>
<rect x="1975.8" y="159" width="10" height="28" rx="1.5" fill="#000"/>
<line x1="1441.7" y1="173" x2="1441.7" y2="220" stroke="#000" stroke-width="2.6" />
<line x1="1836.4" y1="173" x2="1836.4" y2="220" stroke="#000" stroke-width="2.6" />
<line x1="1443" y1="212.3" x2="1587" y2="212.3" stroke="#000" stroke-width="2.6" />
<line x1="1690" y1="212.3" x2="1835" y2="212.3" stroke="#000" stroke-width="2.6" />
<path d="M1451.5 204.5 L1443.2 212.3 L1451.5 220.1 M1826.6 204.5 L1834.9 212.3 L1826.6 220.1" fill="none" stroke="#000" stroke-width="2.6" stroke-linecap="round" stroke-linejoin="round"/>
<text x="1637.3" y="220.5" font-size="24" text-anchor="middle" >11.4 kb</text>
<path d="M1441.7 163.6 H1520.3 V153.4 L1550.2 173 L1520.3 193.3 V183 H1441.7 Z" fill="#5B9BD5" stroke="#000" stroke-width="2.1" stroke-linejoin="miter"/>
<path d="M1550.2 159.6 H1767.8 L1791.4 173 L1767.8 186.4 H1550.2 Z" fill="#1AAF67" stroke="#000" stroke-width="2.1" stroke-linejoin="miter"/>
<path d="M1846.4 163.6 H1884.2 V152.8 L1921.9 173 L1884.2 193.8 V183 H1846.4 Z" fill="#7F7F7F" stroke="#000" stroke-width="2.1" stroke-linejoin="miter"/>
<path d="M1926.5 158.9 H1950.2 L1962.8 173 L1950.2 187 H1926.5 Q1925 187 1925 185.5 V160.4 Q1925 158.9 1926.5 158.9 Z" fill="#000"/>
<text x="1433.8" y="145.4" font-size="24.5"><tspan class="i">R3</tspan> promoter</text>
<text x="1637.3" y="145.4" font-size="24.5"><tspan class="i">R3</tspan> gene</text>
<text x="1782.6" y="145.4" font-size="24.5"><tspan class="i">Ubi</tspan> promoter</text>
<text x="1954.3" y="145.4" font-size="24.5" class="i">Bar</text>
<text x="1396.7" y="213.2" font-size="24.5" >LB</text>
<text x="1965.3" y="213.2" font-size="24.5" >RB</text>
</g>
<g id="panel-g">
<text x="1383" y="338" font-size="47" class="b">g</text>
<rect x="1437.4" y="350.8" width="258.6" height="356.1" fill="#000"/>
<rect x="1704.3" y="350.8" width="260.3" height="356.1" fill="#000"/>
<clipPath id="cL1"><path d="M1461.4 350.8 C1460.4 357.6 1457.3 377 1455.6 391.5 C1453.9 406.1 1452.2 422.6 1450.9 438.1 C1449.7 453.6 1449.3 469.1 1448.2 484.6 C1447 500.1 1444.9 515.7 1444 531.2 C1443.1 546.7 1442.6 562.2 1442.8 577.7 C1443 593.2 1444 608.7 1445.1 624.3 C1446.3 639.8 1448.6 657 1449.8 670.8 C1450.9 684.6 1451.7 701.1 1452.1 707.1 L1567.3 707.1 C1567.1 701.1 1566.5 686.6 1566.1 670.8 C1565.8 655.1 1565.9 628.1 1565 612.6 C1564 597.1 1561.3 587.4 1560.3 577.7 C1559.4 568 1558.5 564.1 1559.2 554.4 C1559.9 544.8 1563.9 531.2 1564.5 519.5 C1565.1 507.9 1563.3 498.2 1562.7 484.6 C1562 471.1 1561.3 453.6 1560.3 438.1 C1559.4 422.6 1558.4 406.1 1556.8 391.5 C1555.3 377 1552 357.6 1551 350.8 Z"/></clipPath>
<clipPath id="cL2"><path d="M1597.6 350.8 C1596 357.6 1591 377 1588.2 391.5 C1585.5 406.1 1582.9 422.6 1581.3 438.1 C1579.6 453.6 1578.1 471.1 1578.5 484.6 C1578.9 498.2 1582 509.8 1583.6 519.5 C1585.2 529.2 1589.6 535.1 1588.2 542.8 C1586.9 550.6 1578 556.4 1575.5 566.1 C1572.9 575.8 1572.9 589.4 1573.1 601 C1573.3 612.6 1575.6 624.3 1576.6 635.9 C1577.6 647.5 1578.6 658.9 1578.9 670.8 C1579.3 682.7 1578.9 701.1 1578.9 707.1 L1680.2 707.1 C1681 701.1 1683.3 684.6 1684.8 670.8 C1686.4 657 1688.7 639.8 1689.5 624.3 C1690.3 608.7 1690.1 593.2 1689.5 577.7 C1688.9 562.2 1687.2 546.7 1686 531.2 C1684.8 515.7 1683.9 500.1 1682.5 484.6 C1681.1 469.1 1679.4 453.6 1677.8 438.1 C1676.3 422.6 1674.6 406.1 1673.2 391.5 C1671.8 377 1670.3 357.6 1669.7 350.8 Z"/></clipPath>
<clipPath id="cL3"><path d="M1735.2 350.8 C1734.1 357.6 1730.2 377 1728.3 391.5 C1726.3 406.1 1725 422.6 1723.6 438.1 C1722.2 453.6 1721.3 469.1 1720.1 484.6 C1718.9 500.1 1717.6 515.7 1716.6 531.2 C1715.6 546.7 1715.3 562.2 1714.3 577.7 C1713.3 593.2 1711.6 608.7 1710.8 624.3 C1710 639.8 1709.4 657 1709.6 670.8 C1709.8 684.6 1711.6 701.1 1712 707.1 L1833 707.1 C1832.8 701.1 1832.8 684.6 1831.8 670.8 C1830.8 657 1828.5 639.8 1827.2 624.3 C1825.8 608.7 1824.3 593.2 1823.7 577.7 C1823.1 562.2 1824.3 546.7 1823.7 531.2 C1823.1 515.7 1821.5 500.1 1820.2 484.6 C1818.8 469.1 1816.7 453.6 1815.5 438.1 C1814.4 422.6 1813.8 406.1 1813.2 391.5 C1812.6 377 1812.2 357.6 1812 350.8 Z"/></clipPath>
<clipPath id="cL4"><path d="M1857.4 350.8 C1856.8 357.6 1855.7 377 1853.9 391.5 C1852.2 406.1 1848.7 422.6 1846.9 438.1 C1845.2 453.6 1844.6 469.1 1843.5 484.6 C1842.3 500.1 1840.6 515.7 1840 531.2 C1839.3 546.7 1839.3 562.2 1839.5 577.7 C1839.7 593.2 1839.9 608.7 1841.1 624.3 C1842.4 639.8 1844.4 657 1846.9 670.8 C1849.5 684.6 1854.7 701.1 1856.2 707.1 L1957.5 707.1 C1957.7 701.1 1958.6 684.6 1958.6 670.8 C1958.6 657 1957.7 639.8 1957.5 624.3 C1957.3 608.7 1957.7 593.2 1957.5 577.7 C1957.3 562.2 1957.3 546.7 1956.3 531.2 C1955.4 515.7 1953 500.1 1951.7 484.6 C1950.3 469.1 1949.3 453.6 1948.2 438.1 C1947 422.6 1945.7 406.1 1944.7 391.5 C1943.7 377 1942.7 357.6 1942.4 350.8 Z"/></clipPath>
<linearGradient id="gL1" x1="0" x2="1" y1="0" y2="0"><stop offset="0" stop-color="#33573a"/><stop offset="0.3" stop-color="#3d6340"/><stop offset="0.55" stop-color="#36583a"/><stop offset="1" stop-color="#2f5034"/></linearGradient>
<linearGradient id="gL2" x1="0" x2="1" y1="0" y2="0"><stop offset="0" stop-color="#2a5a3a"/><stop offset="0.45" stop-color="#3c693c"/><stop offset="0.7" stop-color="#5c6c38"/><stop offset="1" stop-color="#4e6c38"/></linearGradient>
<linearGradient id="gL3" x1="0" x2="1" y1="0" y2="0"><stop offset="0" stop-color="#3a6436"/><stop offset="0.4" stop-color="#47733c"/><stop offset="0.75" stop-color="#3e6a38"/><stop offset="1" stop-color="#345e34"/></linearGradient>
<linearGradient id="gL4" x1="0" x2="1" y1="0" y2="0"><stop offset="0" stop-color="#47743c"/><stop offset="0.4" stop-color="#658545"/><stop offset="0.8" stop-color="#638344"/><stop offset="1" stop-color="#4e773a"/></linearGradient>
<g clip-path="url(#cL1)">
<rect x="1437" y="350" width="145" height="358" fill="url(#gL1)"/>
<g filter="url(#blur10)"><ellipse cx="1537.1" cy="454.4" rx="22.1" ry="34.9" fill="#6d9f8a"/><ellipse cx="1523.1" cy="421.8" rx="16.3" ry="18.6" fill="#4f8468"/><ellipse cx="1533.6" cy="608" rx="29.1" ry="31.4" fill="#93b8b6"/><ellipse cx="1541.7" cy="601" rx="14" ry="18.6" fill="#9fc3c1"/><ellipse cx="1452.1" cy="577.7" rx="14" ry="37.2" fill="#5f917c"/><ellipse cx="1455.6" cy="663.8" rx="12.8" ry="8.8" fill="#8fb6b2"/><ellipse cx="1457.9" cy="503.2" rx="14" ry="14" fill="#4b7d62"/><ellipse cx="1488.2" cy="635.9" rx="20.9" ry="14" fill="#5f917c"/><ellipse cx="1532" cy="452" rx="30" ry="12" fill="#6f9f88" transform="rotate(-38 1532 452)"/><ellipse cx="1482" cy="650" rx="34" ry="9" fill="#6f9f8c" transform="rotate(-25 1482 650)"/><ellipse cx="1500" cy="590" rx="30" ry="10" fill="#6a9a86" transform="rotate(-30 1500 590)"/><ellipse cx="1541.7" cy="531.2" rx="14" ry="20.9" fill="#24492f"/><ellipse cx="1530.1" cy="680.1" rx="34.9" ry="18.6" fill="#3f6d3c"/><ellipse cx="1476.5" cy="694.1" rx="27.9" ry="14" fill="#3a6a3e"/></g>
<rect x="1437" y="350" width="145" height="358" fill="#fff" filter="url(#streak)" opacity="0.10"/>
<path d="M1504 350 L1506.3 707" stroke="#4c5c30" stroke-width="2" fill="none"/>
</g>
<g clip-path="url(#cL2)">
<rect x="1570" y="350" width="125" height="358" fill="url(#gL2)"/>
<g filter="url(#blur10)"><ellipse cx="1590.6" cy="417.1" rx="10.5" ry="18.6" fill="#5f947c"/><ellipse cx="1588.2" cy="484.6" rx="10.5" ry="18.6" fill="#4f8a64"/><ellipse cx="1585.9" cy="580" rx="12.8" ry="20.9" fill="#5a9474"/><ellipse cx="1662.7" cy="621.9" rx="24.4" ry="9.8" fill="#98bebb"/><ellipse cx="1592.9" cy="669.6" rx="16.3" ry="8.1" fill="#8fbdb6"/><ellipse cx="1648.8" cy="414.8" rx="14" ry="44.2" fill="#5f6a38"/><ellipse cx="1672" cy="577.7" rx="16.3" ry="46.5" fill="#4d7a3c"/><ellipse cx="1592.9" cy="635.9" rx="14" ry="20.9" fill="#2f6a36"/><ellipse cx="1616.2" cy="689.4" rx="34.9" ry="16.3" fill="#4f7434"/></g>
<rect x="1570" y="350" width="125" height="358" fill="#fff" filter="url(#rustG)" opacity="0.42"/>
<g filter="url(#blur4)" opacity="0.9"><ellipse cx="1662.7" cy="621.9" rx="22.1" ry="7.4" fill="#98bebb"/></g>
<path d="M1629.7 350 L1632 707" stroke="#3d4a26" stroke-width="2" fill="none"/>
<path d="M1659.2 350 C1639.4 500 1634.8 550 1634.3 707" stroke="#8a6a3a" stroke-width="1.6" fill="none" opacity="0.7"/>
</g>
<g clip-path="url(#cL3)">
<rect x="1704" y="350" width="140" height="358" fill="url(#gL3)"/>
<g filter="url(#blur10)"><ellipse cx="1806.2" cy="663.8" rx="31.4" ry="53.5" fill="#8fbfba"/><ellipse cx="1812" cy="680.1" rx="18.6" ry="27.9" fill="#9cc2c0"/><ellipse cx="1795.7" cy="608" rx="20.9" ry="16.3" fill="#6fa592"/><ellipse cx="1728.3" cy="654.5" rx="19.8" ry="32.6" fill="#5f9780"/><ellipse cx="1725.9" cy="554.4" rx="12.8" ry="14" fill="#5a9070"/><ellipse cx="1788.8" cy="519.5" rx="12.8" ry="18.6" fill="#4a8258"/><ellipse cx="1809.7" cy="489.3" rx="9.3" ry="16.3" fill="#4f8a60"/><ellipse cx="1800.4" cy="573.1" rx="14" ry="18.6" fill="#2f6238"/><ellipse cx="1767.8" cy="414.8" rx="34.9" ry="58.2" fill="#487a40"/></g>
<rect x="1704" y="350" width="140" height="358" fill="#fff" filter="url(#streak)" opacity="0.12"/>
<path d="M1772.9 350 L1772.9 707" stroke="#9fb27a" stroke-width="1.8" fill="none"/>
</g>
<g clip-path="url(#cL4)">
<rect x="1835" y="350" width="130" height="358" fill="url(#gL4)"/>
<g filter="url(#blur10)"><ellipse cx="1938.9" cy="589.4" rx="22.1" ry="44.2" fill="#7fb09c"/><ellipse cx="1941.2" cy="577.7" rx="12.8" ry="20.9" fill="#93c0b4"/><ellipse cx="1851.6" cy="496.3" rx="10.5" ry="18.6" fill="#4f8a58"/><ellipse cx="1846.9" cy="608" rx="7" ry="14" fill="#7fae98"/><ellipse cx="1937.7" cy="682.4" rx="18.6" ry="23.3" fill="#5f9468"/><ellipse cx="1933" cy="526.5" rx="16.3" ry="14" fill="#3f7a3c"/><ellipse cx="1860.9" cy="689.4" rx="16.3" ry="16.3" fill="#4a7a34"/><ellipse cx="1898.1" cy="391.5" rx="39.6" ry="41.9" fill="#7a8f4a"/></g>
<rect x="1835" y="350" width="130" height="358" fill="#fff" filter="url(#rustG)" opacity="0.34"/>
<path d="M1900.9 350 L1895.8 707" stroke="#b9bd84" stroke-width="1.8" fill="none"/>
</g>
<text x="1457.3" y="737.6" font-size="27" >Positive</text>
<text x="1578.9" y="737.6" font-size="27" >Negative</text>
<text x="1724.4" y="737.6" font-size="27" >Positive</text>
<text x="1846.7" y="737.6" font-size="27" >Negative</text>
<line x1="1469.3" y1="754.7" x2="1677.2" y2="754.7" stroke="#000" stroke-width="3.2" stroke-linecap="round"/>
<line x1="1725.1" y1="754.7" x2="1933.3" y2="754.7" stroke="#000" stroke-width="3.2" stroke-linecap="round"/>
<text x="1416.9" y="795.4" font-size="27" class="i">R3</text>
<text x="1519.4" y="795.4" font-size="26.6" >Family1</text>
<text x="1792.6" y="795.4" font-size="26.6" >Family2</text>
</g>
<g id="panel-h">
<text x="1385.3" y="935.2" font-size="47" class="b">h</text>
<g transform="translate(0 0.8)">
<rect x="1517.3" y="954.6" width="43.7" height="13.6" fill="#fff" stroke="#000" stroke-width="3.2"/>
<text x="1578.6" y="970.6" font-size="29.2" >Positive</text>
<rect x="1738.9" y="954.6" width="43.4" height="13.6" fill="#A3A2A6" stroke="#000" stroke-width="3.2"/>
<text x="1798.7" y="970.6" font-size="29.2" >Negative</text>
<rect x="1535.9" y="1435.6" width="50.5" height="64.5" fill="#fff" stroke="#000" stroke-width="3.3"/>
<rect x="1619" y="1142.3" width="51.4" height="357.8" fill="#A3A2A6" stroke="#000" stroke-width="3.3"/>
<rect x="1758.2" y="1434.3" width="50.9" height="65.8" fill="#fff" stroke="#000" stroke-width="3.3"/>
<rect x="1841.3" y="1156.2" width="51.4" height="343.9" fill="#A3A2A6" stroke="#000" stroke-width="3.3"/>
<circle cx="1538.2" cy="1435.6" r="6.7" fill="#0000FF"/>
<circle cx="1542.4" cy="1435.6" r="6.7" fill="#0000FF"/>
<circle cx="1546.6" cy="1435.6" r="6.7" fill="#0000FF"/>
<circle cx="1550.7" cy="1435.6" r="6.7" fill="#0000FF"/>
<circle cx="1554.9" cy="1435.6" r="6.7" fill="#0000FF"/>
<circle cx="1559.1" cy="1435.6" r="6.7" fill="#0000FF"/>
<circle cx="1563.3" cy="1435.6" r="6.7" fill="#0000FF"/>
<circle cx="1567.5" cy="1435.6" r="6.7" fill="#0000FF"/>
<circle cx="1571.7" cy="1435.6" r="6.7" fill="#0000FF"/>
<circle cx="1575.8" cy="1435.6" r="6.7" fill="#0000FF"/>
<circle cx="1580" cy="1435.6" r="6.7" fill="#0000FF"/>
<circle cx="1584.2" cy="1435.6" r="6.7" fill="#0000FF"/>
<circle cx="1621.2" cy="1112.9" r="6.7" fill="#F24144"/>
<circle cx="1626.4" cy="1112.9" r="6.7" fill="#F24144"/>
<circle cx="1631.6" cy="1112.9" r="6.7" fill="#F24144"/>
<circle cx="1636.9" cy="1112.9" r="6.7" fill="#F24144"/>
<circle cx="1642.1" cy="1112.9" r="6.7" fill="#F24144"/>
<circle cx="1647.3" cy="1112.9" r="6.7" fill="#F24144"/>
<circle cx="1652.5" cy="1112.9" r="6.7" fill="#F24144"/>
<circle cx="1657.8" cy="1112.9" r="6.7" fill="#F24144"/>
<circle cx="1663" cy="1112.9" r="6.7" fill="#F24144"/>
<circle cx="1668.2" cy="1112.9" r="6.7" fill="#F24144"/>
<circle cx="1633.5" cy="1177.4" r="6.7" fill="#F24144"/>
<circle cx="1640.8" cy="1177.4" r="6.7" fill="#F24144"/>
<circle cx="1648.2" cy="1177.4" r="6.7" fill="#F24144"/>
<circle cx="1655.5" cy="1177.4" r="6.7" fill="#F24144"/>
<circle cx="1644.5" cy="1242" r="6.7" fill="#F24144"/>
<circle cx="1760" cy="1435.6" r="6.7" fill="#0000FF"/>
<circle cx="1764.2" cy="1435.6" r="6.7" fill="#0000FF"/>
<circle cx="1768.5" cy="1435.6" r="6.7" fill="#0000FF"/>
<circle cx="1772.7" cy="1435.6" r="6.7" fill="#0000FF"/>
<circle cx="1776.9" cy="1435.6" r="6.7" fill="#0000FF"/>
<circle cx="1781.1" cy="1435.6" r="6.7" fill="#0000FF"/>
<circle cx="1785.4" cy="1435.6" r="6.7" fill="#0000FF"/>
<circle cx="1789.6" cy="1435.6" r="6.7" fill="#0000FF"/>
<circle cx="1793.8" cy="1435.6" r="6.7" fill="#0000FF"/>
<circle cx="1798" cy="1435.6" r="6.7" fill="#0000FF"/>
<circle cx="1802.3" cy="1435.6" r="6.7" fill="#0000FF"/>
<circle cx="1806.5" cy="1435.6" r="6.7" fill="#0000FF"/>
<circle cx="1783.2" cy="1403.3" r="6.7" fill="#0000FF"/>
<circle cx="1843" cy="1112.9" r="6.7" fill="#F24144"/>
<circle cx="1858.4" cy="1112.9" r="6.7" fill="#F24144"/>
<circle cx="1873.8" cy="1112.9" r="6.7" fill="#F24144"/>
<circle cx="1889.2" cy="1112.9" r="6.7" fill="#F24144"/>
<circle cx="1851" cy="1177.4" r="6.7" fill="#F24144"/>
<circle cx="1866.3" cy="1177.4" r="6.7" fill="#F24144"/>
<circle cx="1881.5" cy="1177.4" r="6.7" fill="#F24144"/>
<circle cx="1866.3" cy="1242" r="6.7" fill="#F24144"/>
<path d="M1638.9 1100.1 H1650.1 M1644.5 1100.1 V1180.5 M1638.9 1180.5 H1650.1" fill="none" stroke="#000" stroke-width="3.3"/>
<path d="M1860.7 1106.3 H1871.9 M1866.3 1106.3 V1201.8 M1860.7 1201.8 H1871.9" fill="none" stroke="#000" stroke-width="3.3"/>
<path d="M1777.6 1425 H1788.8 M1783.2 1425 V1441.3 M1777.6 1441.3 H1788.8" fill="none" stroke="#000" stroke-width="3.3"/>
<line x1="1492.4" y1="982.3" x2="1492.4" y2="1501.7" stroke="#000" stroke-width="3.3" />
<line x1="1490.8" y1="1500.1" x2="1938" y2="1500.1" stroke="#000" stroke-width="3.3" />
<line x1="1478.3" y1="1500.1" x2="1492.4" y2="1500.1" stroke="#000" stroke-width="3.3" />
<text x="1471.5" y="1510.1" font-size="28" text-anchor="end" >0</text>
<line x1="1478.3" y1="1371" x2="1492.4" y2="1371" stroke="#000" stroke-width="3.3" />
<text x="1471.5" y="1381" font-size="28" text-anchor="end" >2</text>
<line x1="1478.3" y1="1242" x2="1492.4" y2="1242" stroke="#000" stroke-width="3.3" />
<text x="1471.5" y="1252" font-size="28" text-anchor="end" >4</text>
<line x1="1478.3" y1="1112.9" x2="1492.4" y2="1112.9" stroke="#000" stroke-width="3.3" />
<text x="1471.5" y="1122.9" font-size="28" text-anchor="end" >6</text>
<line x1="1478.3" y1="983.9" x2="1492.4" y2="983.9" stroke="#000" stroke-width="3.3" />
<text x="1471.5" y="993.9" font-size="28" text-anchor="end" >8</text>
<line x1="1602" y1="1500.1" x2="1602" y2="1514.4" stroke="#000" stroke-width="3.3" />
<text x="1602" y="1554.9" font-size="28.8" text-anchor="middle" >Family1</text>
<line x1="1823.9" y1="1500.1" x2="1823.9" y2="1514.4" stroke="#000" stroke-width="3.3" />
<text x="1823.9" y="1554.9" font-size="28.8" text-anchor="middle" >Family2</text>
<text transform="translate(1434.5 1243.3) rotate(-90)" font-size="28.8" text-anchor="middle" >SCR score</text>
<path d="M1560 1065.8 V1059 H1644 V1065.8" fill="none" stroke="#000" stroke-width="3.3"/>
<path d="M1782 1071 V1063.4 H1865 V1071" fill="none" stroke="#000" stroke-width="3.3"/>
<text x="1602" y="1045" font-size="28" text-anchor="middle" >****</text>
<text x="1821.7" y="1049.5" font-size="28" text-anchor="middle" >****</text>
</g></g>
</svg>
</body></html>
